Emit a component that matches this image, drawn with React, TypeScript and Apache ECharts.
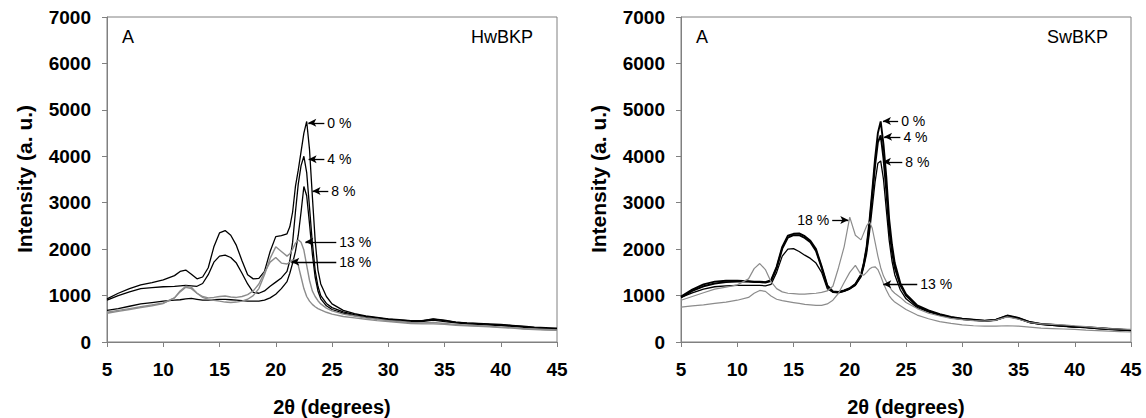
import React, { useEffect, useRef } from "react";
import * as echarts from "echarts";

// 2θ sampling positions (degrees)
const twoTheta = [5, 6, 7, 8, 9, 10, 11, 11.5, 12, 12.5, 13, 13.5, 14, 14.5, 15, 15.5, 16, 16.5, 17, 17.5, 18, 18.5, 19, 19.5, 20, 20.5, 21, 21.25, 21.5, 21.75, 22, 22.25, 22.5, 22.75, 23, 23.25, 23.5, 23.75, 24, 24.5, 25, 26, 27, 28, 29, 30, 31, 32, 33, 34, 35, 36, 37, 38, 39, 40, 41, 42, 43, 44, 45];

// HwBKP intensities
const hw0 = [930, 1050, 1150, 1230, 1280, 1340, 1430,
  1520, 1550, 1460, 1360, 1400, 1600, 2050, 2350, 2400, 2300, 2080, 1750, 1450, 1360, 1370, 1520, 1950, 2270, 2290, 2330,
  2480, 2800, 3350, 3700, 4100, 4500, 4750, 4150, 3150, 2200, 1550, 1250,
  980, 820,
  680, 610, 560, 530, 500, 480, 460, 460, 500, 470, 430, 410, 400, 390, 380, 360, 340, 320, 310, 300];
const hw4 = [900, 1000, 1080, 1150, 1170, 1190, 1200,
  1210, 1220, 1210, 1200, 1260, 1450, 1720, 1850, 1870, 1820, 1700, 1480, 1250, 1070, 1050, 1100, 1200, 1290, 1380, 1520,
  1750, 2150, 2800, 3400, 3800, 4000, 3650, 2900, 2150, 1550, 1200, 1000,
  830, 740,
  650, 590, 550, 520, 490, 470, 455, 455, 490, 460, 425, 405, 395, 380, 370, 350, 330, 310, 295, 285];
const hw8 = [680, 720, 770, 820, 850, 880, 900,
  910, 930, 940, 920, 900, 900, 910, 920, 920, 910, 900, 890, 880, 880, 880, 900, 950, 1030, 1150, 1300,
  1480, 1700, 1950, 2300, 2800, 3350, 3150, 2550, 1900, 1400, 1100, 930,
  780, 700,
  620, 570, 530, 500, 475, 455, 440, 440, 470, 440, 410, 390, 380, 365, 355, 335, 315, 300, 285, 275];
const hw13 = [640, 680, 720, 760, 800, 840, 950,
  1100, 1200, 1180, 1050, 960, 920, 900, 880, 860, 850, 860, 880, 920, 1000, 1150, 1450, 1800, 2050, 1950, 1850,
  1900, 2000, 2130, 2200, 2150, 1980, 1650, 1330, 1100, 980, 890, 820,
  730, 670,
  600, 560, 520, 490, 460, 440, 420, 410, 420, 400, 380, 360, 350, 340, 320, 310, 290, 280, 270, 260];
const hw18 = [620, 660, 700, 740, 780, 830, 950,
  1080, 1180, 1150, 1050, 980, 950, 960, 980, 990, 970, 960, 980, 1020, 1100, 1250, 1500, 1720, 1820, 1700, 1680,
  1720, 1770, 1760, 1650, 1400, 1150, 980, 880, 810, 760, 720, 690,
  640, 600,
  550, 520, 490, 460, 440, 420, 400, 390, 390, 380, 360, 350, 340, 330, 310, 300, 280, 270, 260, 250];

// SwBKP intensities
const sw0 = [980, 1130, 1240, 1300, 1320, 1320, 1310,
  1300, 1300, 1290, 1330, 1620, 2050, 2290, 2330, 2340, 2280, 2180, 2000, 1630, 1220, 1090, 1080, 1110, 1160, 1250, 1450,
  1700, 2050, 2600, 3250, 3950, 4500, 4750, 4250, 3550, 2650, 2100, 1700,
  1260, 1030,
  790, 680, 600, 540, 500, 480, 460, 480, 570, 520, 430, 390, 370, 350, 330, 320, 300, 285, 270, 255];
const sw4 = [960, 1100, 1200, 1260, 1290, 1300, 1300,
  1290, 1290, 1280, 1310, 1590, 2010, 2250, 2300, 2300, 2240, 2150, 1960, 1600, 1200, 1080, 1070, 1100, 1150, 1240, 1430,
  1680, 2000, 2520, 3150, 3800, 4300, 4450, 3950, 3250, 2450, 1950, 1600,
  1220, 1000,
  770, 665, 590, 530, 495, 475, 455, 475, 560, 510, 425, 385, 365, 345, 325, 315, 295, 280, 265, 250];
const sw8 = [960, 1060, 1140, 1190, 1210, 1220, 1220,
  1220, 1220, 1210, 1240, 1500, 1850, 2000, 2010, 1950, 1870, 1800, 1700, 1500, 1150, 1070, 1060, 1090, 1140, 1220, 1400,
  1620, 1900, 2350, 2900, 3450, 3850, 3900, 3500, 2850, 2200, 1750, 1450,
  1120, 930,
  740, 650, 580, 520, 490, 470, 450, 470, 550, 500, 420, 380, 360, 340, 320, 310, 290, 275, 260, 245];
const sw13 = [750, 780, 800, 830, 860, 900, 960,
  1050, 1110, 1090, 990, 920, 890, 870, 850, 830, 810, 800, 790, 790, 820, 900, 1050, 1280, 1500, 1650, 1450,
  1440, 1500, 1570, 1610, 1620, 1560, 1420, 1260, 1120, 1000, 920, 860,
  780, 700,
  580, 500, 440, 400, 370, 350, 340, 340, 350, 340, 320, 300, 290, 280, 270, 255, 245, 235, 225, 215];
const sw18 = [900, 980, 1060, 1140, 1180, 1230, 1360,
  1580, 1690, 1560, 1300, 1150, 1080, 1050, 1040, 1030, 1030, 1040, 1050, 1070, 1100, 1200, 1600, 2050, 2690, 2300, 2200,
  2350, 2500, 2590, 2450, 2150, 1850, 1600, 1420, 1300, 1200, 1110, 1050,
  960, 850,
  720, 620, 560, 510, 480, 460, 450, 470, 540, 490, 420, 390, 380, 370, 350, 330, 310, 290, 280, 270];

const seriesLabels = ["0 %", "4 %", "8 %", "13 %", "18 %"];

// annotation anchors (data units)
const hwNoteTail = [24.32, 24.32, 24.67, 25.38, 25.38];
const hwNoteTip = [22.89, 22.92, 23.27, 22.63, 21.38];
const hwNoteLevel = [4720, 3936, 3252, 2158, 1726];
const swNoteTail = [24.3, 24.5, 24.67, 26.0, 18.44];
const swNoteTip = [22.95, 23.05, 22.95, 22.98, 19.87];
const swNoteLevel = [4760, 4420, 3880, 1245, 2626];

const FONT = "'Liberation Sans', Arial, Helvetica, sans-serif";
const BLACK = "#000000";
const GRAY = "#8c8c8c";
const AXIS = "#808080";

function pairs(vals: number[]) {
  return twoTheta.map((x, i) => [x, vals[i]]);
}

function notes(tail: number[], tip: number[], level: number[]) {
  return seriesLabels.map((name, i) => [
    { coord: [tail[i], level[i]], name },
    { coord: [tip[i], level[i]] },
  ]);
}

export default function App() {
  const ref = useRef<HTMLDivElement>(null);

  useEffect(() => {
    if (!ref.current) return;
    const chart = echarts.init(ref.current, undefined, { renderer: "svg" });

    const xAxisFor = (gridIndex: number) => ({
      type: "value",
      gridIndex,
      min: 5,
      max: 45,
      interval: 5,
      axisLine: { show: true, onZero: false, lineStyle: { color: AXIS, width: 1 } },
      axisTick: { show: true, inside: false, length: 5, lineStyle: { color: AXIS } },
      axisLabel: { color: BLACK, fontSize: 19, fontWeight: "bold", fontFamily: FONT, margin: 18, formatter: (v: number) => String(v) },
      splitLine: { show: false },
    });
    const yAxisFor = (gridIndex: number) => ({
      type: "value",
      gridIndex,
      min: 0,
      max: 7000,
      interval: 1000,
      axisLine: { show: true, onZero: false, lineStyle: { color: AXIS, width: 1 } },
      axisTick: { show: true, inside: false, length: 5, lineStyle: { color: AXIS } },
      axisLabel: { color: BLACK, fontSize: 19, fontWeight: "bold", fontFamily: FONT, margin: 16, formatter: (v: number) => String(v) },
      splitLine: { show: false },
    });

    const colors = [BLACK, BLACK, BLACK, GRAY, GRAY];
    const hwData = [hw0, hw4, hw8, hw13, hw18];
    const swData = [sw0, sw4, sw8, sw13, sw18];
    const hwWidths = [1.3, 1.3, 1.3, 1.4, 1.4];
    const swWidths = [1.9, 1.9, 1.3, 1.2, 1.2];

    const markLineFor = (data: any[]) => ({
      silent: true,
      symbol: ["none", "arrow"],
      symbolSize: [6, 8],
      lineStyle: { type: "solid", color: BLACK, width: 1.3 },
      label: {
        show: true,
        position: "start",
        distance: 3,
        formatter: (p: any) => p.name,
        color: BLACK,
        fontSize: 14,
        fontFamily: FONT,
      },
      emphasis: { disabled: true },
      data,
    });

    const series: any[] = [];
    hwData.forEach((vals, i) => {
      series.push({
        name: "Hw " + seriesLabels[i],
        type: "line",
        xAxisIndex: 0,
        yAxisIndex: 0,
        data: pairs(vals),
        showSymbol: false,
        lineStyle: { color: colors[i], width: hwWidths[i] },
        itemStyle: { color: colors[i] },
        ...(i === 0 ? { markLine: markLineFor(notes(hwNoteTail, hwNoteTip, hwNoteLevel)) } : {}),
      });
    });
    swData.forEach((vals, i) => {
      series.push({
        name: "Sw " + seriesLabels[i],
        type: "line",
        xAxisIndex: 1,
        yAxisIndex: 1,
        data: pairs(vals),
        showSymbol: false,
        lineStyle: { color: colors[i], width: swWidths[i] },
        itemStyle: { color: colors[i] },
        ...(i === 0 ? { markLine: markLineFor(notes(swNoteTail, swNoteTip, swNoteLevel)) } : {}),
      });
    });

    const txt = (text: string, x: number, y: number, font: string, align = "left", rotation = 0) => ({
      type: "text",
      x,
      y,
      rotation,
      silent: true,
      style: { text, font, fill: BLACK, align, verticalAlign: "middle" },
    });

    chart.setOption({
      animation: false,
      backgroundColor: "#ffffff",
      grid: [
        { left: 107, top: 17, width: 450, height: 325, show: true, borderColor: AXIS, borderWidth: 1, backgroundColor: "transparent" },
        { left: 681, top: 17, width: 450, height: 325, show: true, borderColor: AXIS, borderWidth: 1, backgroundColor: "transparent" },
      ],
      xAxis: [xAxisFor(0), xAxisFor(1)],
      yAxis: [yAxisFor(0), yAxisFor(1)],
      series,
      graphic: [
        txt("A", 122, 37, `18px ${FONT}`),
        txt("HwBKP", 533, 37, `18px ${FONT}`, "right"),
        txt("A", 696, 37, `18px ${FONT}`),
        txt("SwBKP", 1108, 37, `18px ${FONT}`, "right"),
        txt("Intensity (a. u.)", 24, 179, `bold 21px ${FONT}`, "center", Math.PI / 2),
        txt("Intensity (a. u.)", 598, 179, `bold 21px ${FONT}`, "center", Math.PI / 2),
        txt("2\u03b8 (degrees)", 332, 407, `bold 20px ${FONT}`, "center"),
        txt("2\u03b8 (degrees)", 906, 407, `bold 20px ${FONT}`, "center"),
      ],
    });

    return () => chart.dispose();
  }, []);

  return (
    <div
      ref={ref}
      style={{ position: "fixed", left: 0, top: 0, width: 1146, height: 418, background: "#fff" }}
    />
  );
}
